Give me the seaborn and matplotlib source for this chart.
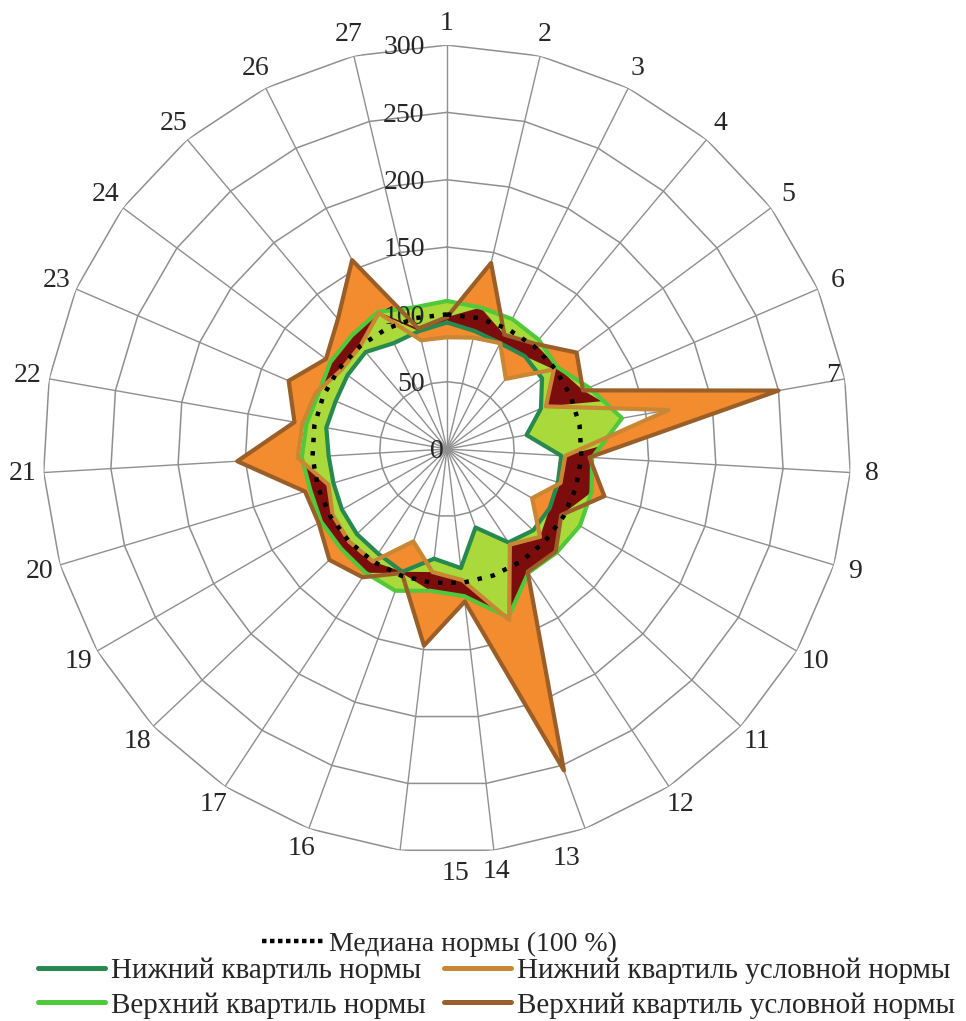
import matplotlib
matplotlib.use("Agg")
import matplotlib.pyplot as plt
import numpy as np
import seaborn as sns
from matplotlib.lines import Line2D

# 27 indicators, values in % of the norm median
axis_labels = [str(i) for i in range(1, 28)]
r_ticks = [0, 50, 100, 150, 200, 250, 300]

median_norm = [100] * 27
lower_norm = [94, 90, 88, 90, 88, 76, 60, 85, 86, 88, 88, 83, 62, 89,
              82, 97, 93, 92, 90, 88, 88, 91, 90, 92, 94, 88, 90]
upper_norm = [110, 108, 108, 106, 102, 115, 132, 108, 112, 114, 112, 110, 133, 110,
              106, 112, 110, 108, 108, 106, 108, 106, 104, 108, 110, 114, 108]
lower_cond = [83, 85, 88, 68, 99, 80, 167, 88, 88, 73, 95, 85, 135, 98,
              92, 73, 100, 100, 98, 92, 111, 109, 106, 98, 100, 113, 83]
upper_cond = [98, 142, 95, 102, 120, 110, 250, 106, 122, 98, 111, 109, 254, 114,
              147, 98, 114, 120, 110, 110, 156, 115, 128, 112, 126, 157, 92]

names = ["Медиана нормы (100 %)", "Нижний квартиль нормы", "Верхний квартиль нормы",
         "Нижний квартиль условной нормы", "Верхний квартиль условной нормы"]
colors = {"med": "black", "gl": "#27894f", "gu": "#4fc93a",
          "ol": "#c98633", "ou": "#9a5f28"}
fill_orange = "#f38b2f"
fill_green = "#a9d93b"
fill_red = "#7c0d0d"

sns.set_theme(style="white")
plt.rcParams["font.family"] = ["Liberation Serif", "DejaVu Serif"]

n = len(axis_labels)
theta = np.linspace(0, 2 * np.pi, n, endpoint=False)
tc = np.append(theta, 2 * np.pi)


def closed(v):
    v = np.asarray(v, dtype=float)
    return np.append(v, v[0])


fig = plt.figure(figsize=(9.66, 10.21), dpi=100)
ax = fig.add_axes([0.0445, 0.1645, 0.8364, 0.7914], projection="polar")
ax.set_theta_zero_location("N")
ax.set_theta_direction(-1)
ax.set_ylim(0, 300)
ax.set_xticks([])
ax.set_yticks([])
ax.grid(False)
ax.spines["polar"].set_visible(False)

# polygon grid
grid_c = "#8f8f8f"
for v in r_ticks[1:]:
    ax.plot(tc, [v] * (n + 1), color=grid_c, lw=1.1, zorder=1)
for t in theta:
    ax.plot([t, t], [0, 300], color=grid_c, lw=1.0, zorder=1)

gl, gu = closed(lower_norm), closed(upper_norm)
ol, ou = closed(lower_cond), closed(upper_cond)

# bands and their overlap
ax.fill_between(tc, ol, ou, color=fill_orange, lw=0, zorder=2)
ax.fill_between(tc, gl, gu, color=fill_green, lw=0, zorder=2.1)
lo = np.maximum(gl, ol)
hi = np.minimum(gu, ou)
ax.fill_between(tc, lo, hi, where=hi >= lo, interpolate=True,
                color=fill_red, lw=0, zorder=2.2)

lw = 3.0
sns.lineplot(x=tc, y=gl, ax=ax, color=colors["gl"], lw=lw, sort=False, zorder=3)
sns.lineplot(x=tc, y=gu, ax=ax, color=colors["gu"], lw=lw, sort=False, zorder=3)
sns.lineplot(x=tc, y=ol, ax=ax, color=colors["ol"], lw=lw, sort=False, zorder=3.1)
sns.lineplot(x=tc, y=ou, ax=ax, color=colors["ou"], lw=lw, sort=False, zorder=3.2)
sns.lineplot(x=tc, y=closed(median_norm), ax=ax, color=colors["med"], lw=3.2,
             sort=False, zorder=4, dashes=False, linestyle=(0, (1, 2)))
ax.set_xlabel("")
ax.set_ylabel("")
ax.set_ylim(0, 300)

fs = 20
# a few category labels sit slightly off their spokes in the original
nudge = {"7": (-24, 0), "13": (-19, -7), "15": (42, -1)}
for t, lab in zip(theta, axis_labels):
    ax.annotate(lab, xy=(t, 316), xytext=nudge.get(lab, (0, 0)),
                textcoords="offset points", ha="center", va="center",
                fontsize=fs, annotation_clip=False)
for v in r_ticks:
    off = -2 if v == 0 else -16
    ax.annotate(str(v), xy=(0, v), xytext=(off, -2), textcoords="offset points",
                ha="right", va="center", fontsize=fs)

h_med = Line2D([], [], color="black", lw=3.2, linestyle=(0, (1, 0.8)))
h = [Line2D([], [], color=colors[k], lw=3.6, solid_capstyle="round")
     for k in ["gl", "gu", "ol", "ou"]]

fig.legend(handles=[h_med], labels=[names[0]], loc="center",
           bbox_to_anchor=(0.455, 0.0755), frameon=False, fontsize=fs,
           handlelength=2.3, handletextpad=0.1)
fig.legend(handles=h, labels=names[1:], ncol=2, loc="center",
           bbox_to_anchor=(0.514, 0.0322), frameon=False, fontsize=21,
           handlelength=2.3, handletextpad=0.2, columnspacing=0.65,
           labelspacing=0.27)

fig.savefig("out.png", dpi=100)
